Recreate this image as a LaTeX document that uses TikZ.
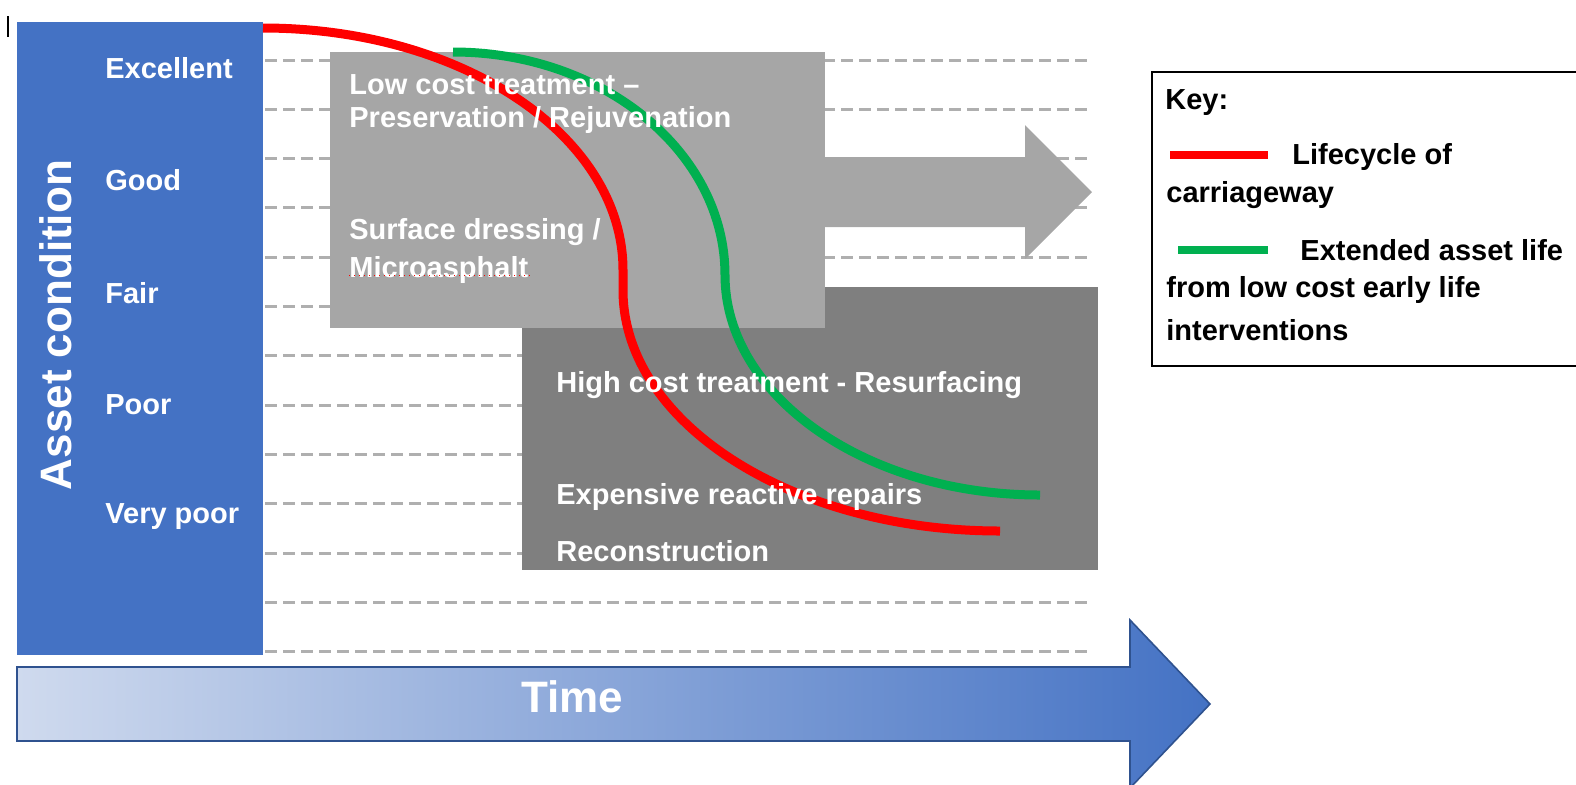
\documentclass[tikz,border=0pt]{standalone}
\usepackage{fontspec}
\setmainfont{Liberation Sans}
\usepackage{xcolor}
\definecolor{condblue}{RGB}{68,114,196}
\definecolor{condedge}{RGB}{47,82,143}
\definecolor{timelight}{RGB}{207,218,238}
\definecolor{boxlight}{RGB}{166,166,166}
\definecolor{boxdark}{RGB}{127,127,127}
\definecolor{gridgray}{RGB}{175,175,175}
\definecolor{lifered}{RGB}{255,0,0}
\definecolor{lifegreen}{RGB}{0,176,80}
\usepackage{tikz}
\usetikzlibrary{positioning}

\tikzset{
  lbl/.style={font=\bfseries\fontsize{14.5}{17}\selectfont, white, anchor=west, inner sep=0pt},
  keytxt/.style={font=\bfseries\fontsize{14.5}{17}\selectfont, black, anchor=west, inner sep=0pt},
  gridline/.style={gridgray, line width=1.5pt, dash pattern=on 6pt off 3pt},
  lifeline/.style={line width=4.5pt},
}

\begin{document}
\begin{tikzpicture}[x=0.5pt, y=-0.5pt]
  \useasboundingbox (0,0) rectangle (1576,784);
  \clip (0,0) rectangle (1576,784);

  % cursor mark
  \draw[black, line width=0.6pt] (8,16) -- (8,37);

  % Condition column
  \fill[condblue] (17,22) rectangle (263,655);
  \node[font=\bfseries\fontsize{22}{26}\selectfont, white, rotate=90] (axis) at (56,325) {Asset condition};
  \node[lbl] (excellent) at (105,68) {Excellent};
  \node[lbl] (good) at (105,180) {Good};
  \node[lbl] (fair) at (105,293) {Fair};
  \node[lbl] (poor) at (105,405) {Poor};
  \node[lbl] (verypoor) at (105,517) {Very poor};

  % Dashed condition levels
  \foreach \i in {0,...,12}
    \draw[gridline] (265,{60+49.3*\i}) -- (1092,{60+49.3*\i});

  % Treatment arrow and boxes
  \fill[boxlight] (700,157) -- (1025,157) -- (1025,125) -- (1092,192) -- (1025,259) -- (1025,227) -- (700,227) -- cycle;
  \fill[boxdark] (522,287) rectangle (1098,570);
  \fill[boxlight] (330,52) rectangle (825,328);

  % --- Lifecycle curves ---
  \draw[lifeline, lifered] (263,28) .. controls (462,28) and (623,136) .. (623,270)
    -- (623,290) .. controls (623,423) and (792,531) .. (1000,531);
  \draw[lifeline, lifegreen] (453,52) .. controls (603,52) and (725,152) .. (725,275)
    .. controls (725,396) and (866,495) .. (1040,495);

  % Low cost texts
  \node[lbl] (lowcost) at (349,85) {Low cost treatment --};
  \node[lbl] (preserve) at (349,120) {Preservation / Rejuvenation};
  \node[lbl] (surface) at (349,232) {Surface dressing /};
  \node[lbl] (micro) at (349,270) {Microasphalt};
  \draw[lifered, line width=0.5pt, dotted] (micro.south west) ++(0,-8) -- ++(181,0);

  % High cost texts
  \node[lbl] (highcost) at (556,385) {High cost treatment - Resurfacing};
  \node[lbl] (reactive) at (556,497) {Expensive reactive repairs};
  \node[lbl] (rebuild) at (556,551) {Reconstruction};

  % --- Key ---
  \draw[black, line width=0.8pt] (1152,72) rectangle (1600,366);
  \node[keytxt] (key) at (1165,103) {Key:};
  \draw[lifered, line width=4pt] (1170,155) -- (1268,155);
  \node[keytxt] (keyred) at (1292,157) {Lifecycle of};
  \node[keytxt] (keyred2) at (1166,195) {carriageway};
  \draw[lifegreen, line width=4pt] (1178,250) -- (1268,250);
  \node[keytxt] (keygreen) at (1300,250) {Extended asset life};
  \node[keytxt] (keygreen2) at (1166,290) {from low cost early life};
  \node[keytxt] (keygreen3) at (1166,330) {interventions};

  % Time arrow
  \shadedraw[left color=timelight, right color=condblue, draw=condedge, line width=0.8pt]
    (17,667) -- (1130,667) -- (1130,620) -- (1210,704) -- (1130,788) -- (1130,741) -- (17,741) -- cycle;
  \node[font=\bfseries\fontsize{22}{26}\selectfont, white] (time) at (572,697) {Time};
\end{tikzpicture}
\end{document}
